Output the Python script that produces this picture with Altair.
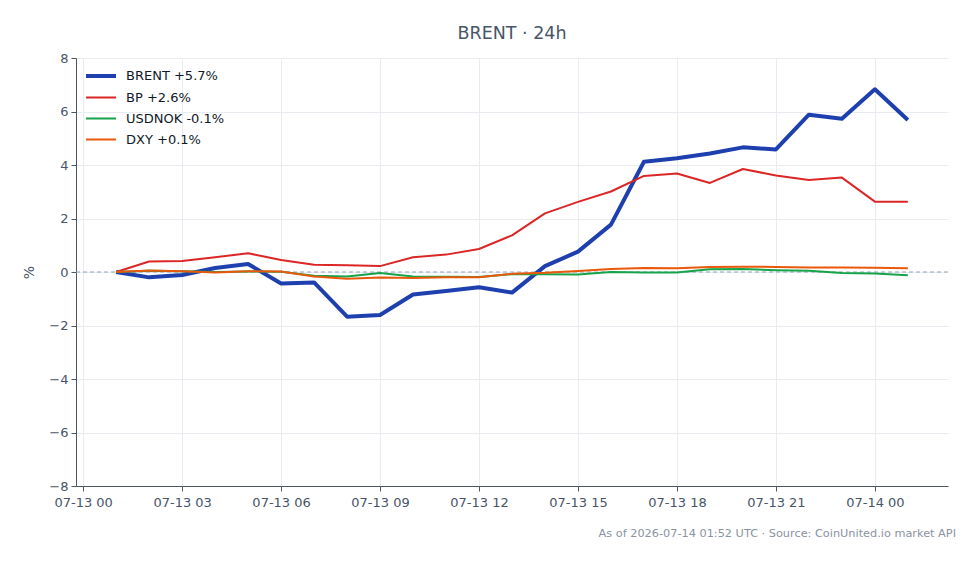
import altair as alt
import pandas as pd

# ---- data ----
hours = pd.date_range("2026-07-13T01:00:00", periods=25, freq="h")
times = [h.strftime("%Y-%m-%dT%H:%M:%SZ") for h in hours]

series_names = ["BRENT +5.7%", "BP +2.6%", "USDNOK -0.1%", "DXY +0.1%"]
series_colors = ["#1e40af", "#dc2626", "#16a34a", "#ea580c"]
series_widths = [4, 2, 2, 2]

brent = [0, -0.2, -0.11, 0.15, 0.3, -0.43, -0.39, -1.67, -1.61, -0.84, -0.71, -0.57, -0.77,
         0.22, 0.76, 1.77, 4.12, 4.25, 4.43, 4.66, 4.58, 5.88, 5.73, 6.83, 5.68]
bp = [0, 0.39, 0.41, 0.55, 0.7, 0.45, 0.27, 0.25, 0.22, 0.55, 0.65, 0.86, 1.37,
      2.19, 2.62, 3.01, 3.59, 3.68, 3.33, 3.85, 3.61, 3.44, 3.53, 2.63, 2.63]
usdnok = [0, 0.05, 0.03, 0.0, 0.02, 0.01, -0.14, -0.17, -0.04, -0.17, -0.18, -0.19, -0.08,
          -0.08, -0.09, 0.0, -0.02, -0.02, 0.1, 0.11, 0.07, 0.05, -0.04, -0.06, -0.12]
dxy = [0, 0.06, 0.03, -0.02, 0.03, 0.02, -0.17, -0.25, -0.21, -0.22, -0.2, -0.2, -0.07,
       -0.03, 0.04, 0.11, 0.15, 0.14, 0.19, 0.2, 0.19, 0.17, 0.17, 0.16, 0.14]

y_ticks = [-8, -6, -4, -2, 0, 2, 4, 6, 8]
x_tick_hours = [(13, 0), (13, 3), (13, 6), (13, 9), (13, 12), (13, 15), (13, 18), (13, 21), (14, 0)]

footer_text = "As of 2026-07-14 01:52 UTC · Source: CoinUnited.io market API"
title_text = "BRENT · 24h"

rows = []
for name, vals in zip(series_names, [brent, bp, usdnok, dxy]):
    for t, v in zip(times, vals):
        rows.append({"t": t, "series": name, "value": v})
df = pd.DataFrame(rows)

FONT = "DejaVu Sans"
TXT = "#475569"

x_enc = alt.X(
    "t:T",
    scale=alt.Scale(
        type="utc",
        domain=[
            alt.DateTime(year=2026, month=7, date=12, hours=23, minutes=47, utc=True),
            alt.DateTime(year=2026, month=7, date=14, hours=2, minutes=13, utc=True),
        ],
    ),
    axis=alt.Axis(
        title=None,
        values=[alt.DateTime(year=2026, month=7, date=d, hours=h, utc=True) for d, h in x_tick_hours],
        format="%m-%d %H",
        labelFlush=False,
        labelPadding=5,
    ),
)
y_enc = alt.Y(
    "value:Q",
    scale=alt.Scale(domain=[-8, 8], nice=False),
    axis=alt.Axis(title="%", values=y_ticks, titlePadding=12),
)

lines = alt.Chart(df).mark_line(strokeJoin="round").encode(
    x=x_enc,
    y=y_enc,
    color=alt.Color("series:N", scale=alt.Scale(domain=series_names, range=series_colors),
                    title=None, sort=series_names),
    strokeWidth=alt.StrokeWidth("series:N",
                                scale=alt.Scale(type="ordinal", domain=series_names, range=series_widths),
                                title=None, sort=series_names),
    order=alt.Order("t:T"),
)

zero = alt.Chart(pd.DataFrame({"z": [0]})).mark_rule(
    color="#94a3b8", strokeDash=[4, 3], strokeWidth=1
).encode(y="z:Q")

footer = alt.Chart(pd.DataFrame({"txt": [footer_text]})).mark_text(
    align="right", baseline="middle", font=FONT, fontSize=11.3, color="#8a939f"
).encode(x=alt.value(880), y=alt.value(476), text="txt:N")

chart = (
    alt.layer(zero, lines, footer)
    .properties(
        width=872,
        height=428,
        title=alt.TitleParams(title_text, anchor="middle", fontSize=17.5, font=FONT,
                              color=TXT, fontWeight="normal", offset=10),
        autosize=alt.AutoSizeParams(type="none"),
        padding={"left": 76, "top": 58, "right": 32, "bottom": 78},
    )
    .configure_view(stroke=None)
    .configure_axis(
        labelFont=FONT, labelFontSize=13, labelColor=TXT,
        titleFont=FONT, titleFontSize=14, titleColor=TXT, titleFontWeight="normal",
        gridColor="#e8ebf0", domainColor="#4b5563", tickColor="#4b5563",
        tickSize=5, labelPadding=3,
    )
    .configure_legend(
        orient="none", legendX=18, legendY=11,
        labelFont=FONT, labelFontSize=13, labelColor="#111827",
        symbolType="M-3,0H3", symbolSize=100, labelOffset=18, rowPadding=7,
        padding=0,
    )
)

chart.save("out.html", embed_options={"renderer": "svg", "actions": False})
